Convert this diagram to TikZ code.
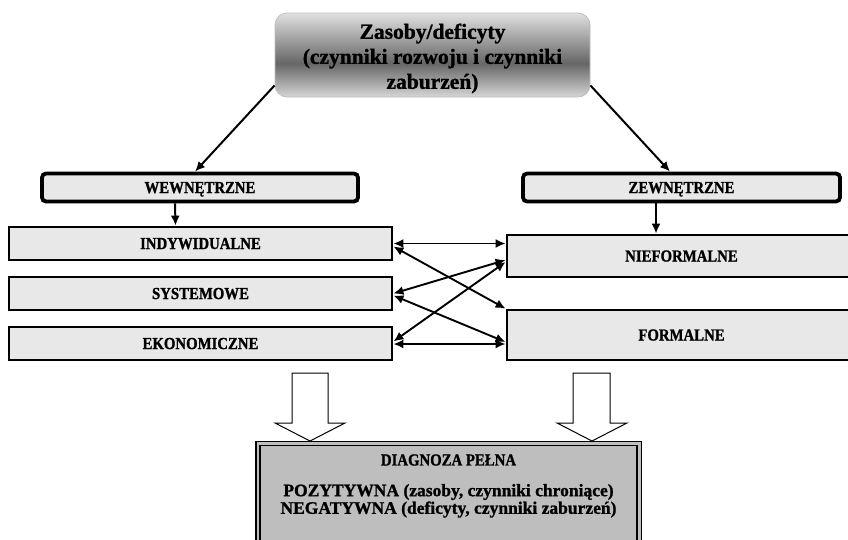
\documentclass[tikz,border=0pt]{standalone}
\usepackage{fontspec}
\setmainfont{Liberation Serif}[BoldFeatures={FakeBold=1.2}]
\newfontfamily\narrowserif{Liberation Serif}[FakeStretch=0.88, BoldFeatures={FakeBold=1.2}]
\usetikzlibrary{arrows.meta}

\definecolor{boxgray}{HTML}{E8E8E8}
\definecolor{diaggray}{HTML}{BEBEBE}
\definecolor{shadetop}{HTML}{E0E0E0}
\definecolor{shadebottom}{HTML}{D6D6D6}
\definecolor{shadedark}{HTML}{666666}

% vertical gradient: light at the edges, dark band a little below the middle
\pgfdeclareverticalshading{sourceshade}{100bp}{%
  color(0bp)=(shadebottom); color(25bp)=(shadebottom);
  color(45bp)=(shadedark);
  color(75bp)=(shadetop); color(100bp)=(shadetop)}

\newcommand\boxlabelfont{\narrowserif\bfseries\fontsize{16.8}{18}\selectfont}
\newcommand\headfont{\bfseries\fontsize{21.5}{25}\selectfont}
\newcommand\resultfont{\bfseries\fontsize{17.5}{17}\selectfont}

\tikzset{
  sourcebox/.style={draw=black!25, line width=0.8pt, rounded corners=12pt,
    shading=sourceshade, inner sep=0pt, minimum width=315pt,
    minimum height=84pt},
  sourcetext/.style={inner sep=0pt, align=center, font=\headfont},
  groupbox/.style={draw=black, line width=3.8pt, rounded corners=4pt,
    fill=boxgray, inner sep=0pt, minimum height=28pt,
    text height=11pt, text depth=0pt, font=\boxlabelfont},
  factorbox/.style={draw=black, line width=2.8pt, fill=boxgray,
    inner sep=0pt, text height=11pt, text depth=0pt, font=\boxlabelfont},
  feed/.style={line width=2pt, -{Latex[length=10pt,width=9pt]}},
  link/.style={line width=1.9pt,
    {Latex[length=10pt,width=9pt]}-{Latex[length=10pt,width=9pt]}},
  hollowarrow/.style={draw=black, line width=1pt, fill=white},
  resultbox/.style={draw=black, line width=1.5pt, double=diaggray,
    double distance=2.6pt, fill=diaggray, inner sep=0pt},
  resulttext/.style={inner sep=0pt, font=\resultfont}
}

\begin{document}
\begin{tikzpicture}[x=1pt, y=-1pt]
  \clip (0,0) rectangle (848,539);
  \fill[white] (0,0) rectangle (848,539);

  % source of all factors
  \node[sourcebox] (source) at (432.5,55) {};
  \node[sourcetext] (sourcetext) at (432.5,58.5)
    {Zasoby/deficyty\\(czynniki rozwoju i czynniki\\zaburzeń)};

  % two groups
  \node[groupbox, minimum width=316pt] (inner) at (200,187.5) {WEWNĘTRZNE};
  \node[groupbox, minimum width=317pt] (outer) at (681.5,187.5) {ZEWNĘTRZNE};

  % internal factors
  \node[factorbox, minimum width=383pt, minimum height=33pt] (indiv) at (200.5,243.5) {INDYWIDUALNE};
  \node[factorbox, minimum width=383pt, minimum height=33pt] (system) at (200.5,293.5) {SYSTEMOWE};
  \node[factorbox, minimum width=383pt, minimum height=33pt] (econ) at (200.5,343.5) {EKONOMICZNE};

  % external factors
  \node[factorbox, minimum width=349pt, minimum height=42pt] (informal) at (681.5,256) {NIEFORMALNE};
  \node[factorbox, minimum width=349pt, minimum height=50pt] (formal) at (681.5,335) {FORMALNE};

  % full diagnosis
  \node[resultbox, minimum width=381.4pt, minimum height=130pt] (diag) at (448.5,508.3) {};
  \node[resulttext, font=\boxlabelfont] (diagtitle) at (448.5,460) {DIAGNOZA PEŁNA};
  \node[resulttext] (diagplus) at (448.5,492) {POZYTYWNA (zasoby, czynniki chroniące)};
  \node[resulttext] (diagminus) at (448.5,509.5) {NEGATYWNA (deficyty, czynniki zaburzeń)};

  % source to groups
  \draw[feed] ([yshift=12pt]source.south west) -- ([xshift=-5pt]inner.north);
  \draw[feed] ([yshift=12pt]source.south east) -- ([xshift=-11.5pt]outer.north);

  % groups to first factor
  \draw[feed] ([xshift=-25pt]inner.south) -- ([xshift=-25pt]indiv.north);
  \draw[feed] ([xshift=-25.5pt]outer.south) -- ([xshift=-25.5pt]informal.north);

  % links between internal and external factors
  \coordinate (econlink) at ([yshift=-0.5pt]econ.east);
  \draw[link] (indiv.east) -- (informal.west |- indiv.east);
  \draw[link] ([yshift=-3pt]indiv.east) -- (formal.north west);
  \draw[link] (system.east) -- ([yshift=-4pt]informal.west);
  \draw[link] ([yshift=-2pt]system.east) -- ([yshift=-7pt]formal.west);
  \draw[link] ([yshift=2pt]econ.east) -- ([yshift=-6pt]informal.west);
  \draw[link] (econlink) -- (formal.west |- econlink);

  % block arrows into the diagnosis
  \draw[hollowarrow] (292,373) -- (328,373) -- (328,423) -- (345,423)
    -- (310,441) -- (275,423) -- (292,423) -- cycle;
  \draw[hollowarrow] (573,373) -- (610,373) -- (610,423) -- (627,423)
    -- (592,441) -- (557,423) -- (573,423) -- cycle;
\end{tikzpicture}
\end{document}
